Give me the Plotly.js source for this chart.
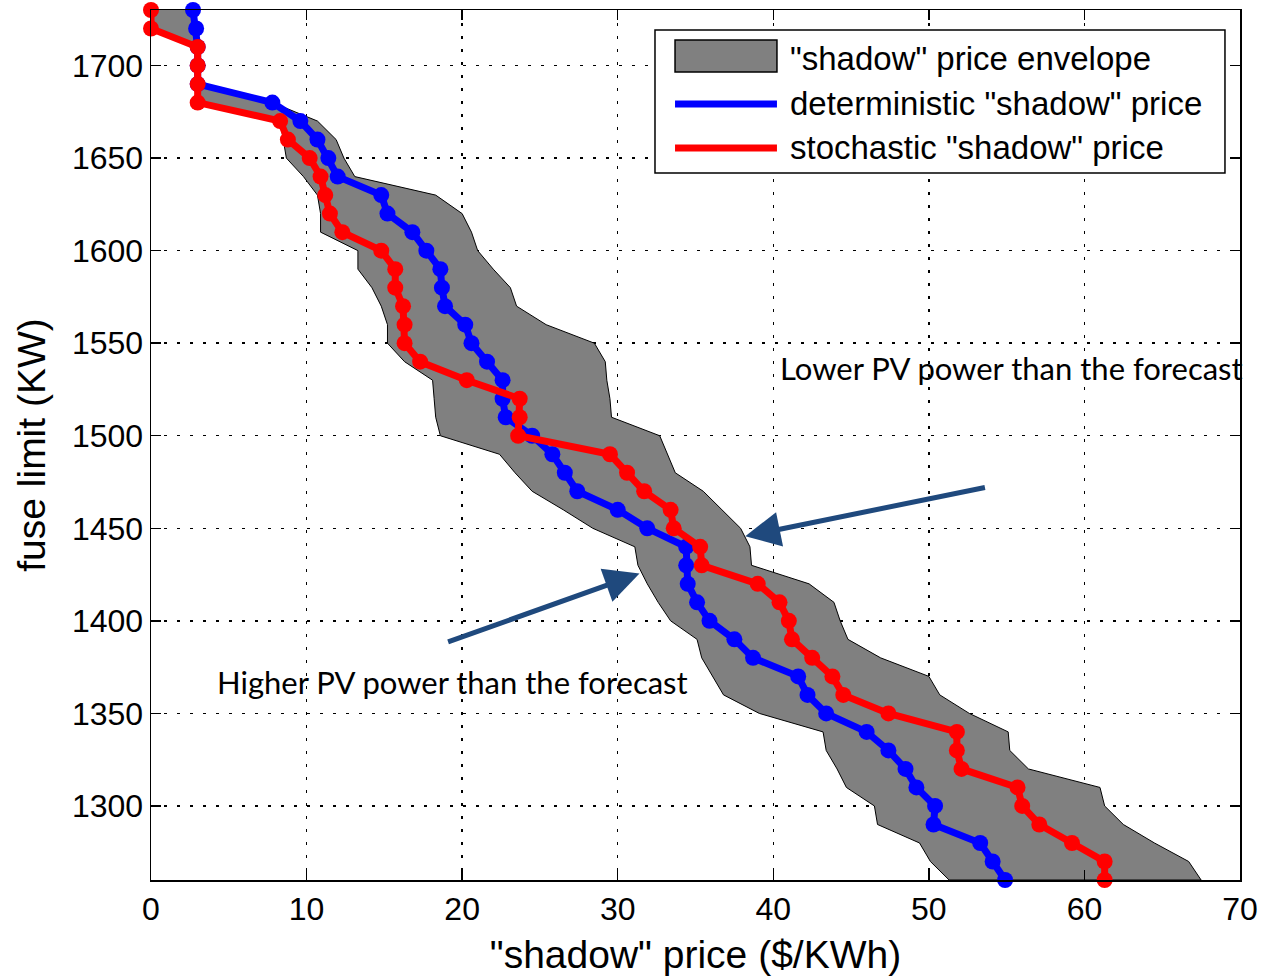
<!DOCTYPE html>
<html>
<head>
<meta charset="utf-8">
<script src="https://cdn.plot.ly/plotly-3.0.1.min.js"></script>
<style>html,body{margin:0;padding:0;background:#fff;}#chart{width:1267px;height:976px;}</style>
</head>
<body>
<div id="chart"></div>
<script>
// fuse limit levels (KW)
const fuseLimit = [1730,1720,1710,1700,1690,1680,1670,1660,1650,1640,
                   1630,1620,1610,1600,1590,1580,1570,1560,1550,1540,
                   1530,1520,1510,1500,1490,1480,1470,1460,1450,1440,
                   1430,1420,1410,1400,1390,1380,1370,1360,1350,1340,
                   1330,1320,1310,1300,1290,1280,1270,1260];
// stochastic "shadow" price ($/KWh)
const stochastic = [0,0,3.0,3.0,3.0,3.0,8.3,8.8,10.2,10.9,
                    11.2,11.5,12.3,14.8,15.7,15.7,16.2,16.3,16.3,17.3,
                    20.3,23.7,23.7,23.6,29.5,30.6,31.7,33.4,33.6,35.3,
                    35.4,39.0,40.4,41.0,41.2,42.5,43.8,44.5,47.4,51.8,
                    51.8,52.1,55.7,56.0,57.1,59.2,61.3,61.3];
// deterministic "shadow" price ($/KWh)
const deterministic = [2.7,2.9,3.0,3.0,3.0,7.8,9.6,10.7,11.4,12.0,
                       14.8,15.2,16.8,17.7,18.6,18.7,18.9,20.2,20.6,21.6,
                       22.6,22.6,22.8,24.5,25.8,26.6,27.4,30.0,31.9,34.4,
                       34.4,34.5,35.1,35.9,37.5,38.7,41.6,42.2,43.4,46.0,
                       47.4,48.5,49.2,50.4,50.3,53.3,54.1,54.9];
// envelope lower / upper bounds ($/KWh)
const envelopeMin = [0,0,3.0,3.0,3.0,3.0,8.3,8.5,8.7,9.8,
                     10.7,10.9,10.9,13.3,13.3,14.2,14.8,15.2,15.2,16.3,
                     18.1,18.2,18.3,18.6,22.4,23.4,24.5,26.5,28.4,31.1,
                     31.3,31.9,32.6,33.4,35.1,35.4,36.1,36.8,39.1,43.2,
                     43.4,44.1,44.7,46.5,46.7,49.4,50.1,51.3];
const envelopeMax = [2.7,2.9,3.0,3.0,3.0,7.8,10.7,11.9,12.4,13.1,
                     18.3,20.0,20.6,21.0,22.0,23.1,23.5,25.4,28.5,29.2,
                     29.3,29.5,29.6,32.7,33.2,33.7,35.5,36.7,37.9,38.5,
                     38.6,42.3,43.9,44.3,44.8,46.9,50.0,50.7,52.6,55.1,
                     55.2,56.4,61.0,61.3,62.5,64.5,66.7,67.5];
const xTicks = [0,10,20,30,40,50,60,70];
const yTicks = [1300,1350,1400,1450,1500,1550,1600,1650,1700];
const legendLabels = ['"shadow" price envelope','deterministic "shadow" price','stochastic "shadow" price'];
const noteLower = 'Lower PV power than the forecast';
const noteHigher = 'Higher PV power than the forecast';

const polyX = envelopeMin.concat(envelopeMax.slice().reverse());
const polyY = fuseLimit.concat(fuseLimit.slice().reverse());

const traces = [
  {x: polyX, y: polyY, type: 'scatter', mode: 'lines', fill: 'toself',
   fillcolor: '#808080', line: {color: '#000', width: 1}, name: legendLabels[0],
   showlegend: false, hoverinfo: 'skip'},
  {x: deterministic, y: fuseLimit, type: 'scatter', mode: 'lines+markers',
   line: {color: '#0000FF', width: 7}, marker: {color: '#0000FF', size: 16},
   name: legendLabels[1], showlegend: false, cliponaxis: false},
  {x: stochastic, y: fuseLimit, type: 'scatter', mode: 'lines+markers',
   line: {color: '#FF0000', width: 7}, marker: {color: '#FF0000', size: 16},
   name: legendLabels[2], showlegend: false, cliponaxis: false}
];

const axisFont = {family: 'Liberation Sans, Arial, sans-serif', size: 32, color: '#000'};
const axisCommon = {
  showline: true, linecolor: '#000', linewidth: 1.5, mirror: 'ticks',
  ticks: 'inside', ticklen: 10, tickwidth: 1.5, tickcolor: '#000',
  showgrid: true, gridcolor: '#000', gridwidth: 1.5, griddash: '3px,10px',
  zeroline: false, tickfont: axisFont, fixedrange: true
};

const lx0 = 0.4628, lx1 = 0.9862;
const legendRows = [0.9437, 0.8920, 0.8414];
const shapes = [
  {type: 'rect', xref: 'paper', yref: 'paper', x0: lx0, x1: lx1, y0: 0.8126, y1: 0.977,
   line: {color: '#000', width: 1.5}, fillcolor: '#fff', layer: 'above'},
  {type: 'rect', xref: 'paper', yref: 'paper', x0: 0.4812, x1: 0.5748, y0: 0.9287, y1: 0.9655,
   line: {color: '#000', width: 1.5}, fillcolor: '#808080', layer: 'above'},
  {type: 'line', xref: 'paper', yref: 'paper', x0: 0.4812, x1: 0.5748, y0: legendRows[1], y1: legendRows[1],
   line: {color: '#0000FF', width: 7}, layer: 'above'},
  {type: 'line', xref: 'paper', yref: 'paper', x0: 0.4812, x1: 0.5748, y0: legendRows[2], y1: legendRows[2],
   line: {color: '#FF0000', width: 7}, layer: 'above'}
];
const legendFont = {family: 'Liberation Sans, Arial, sans-serif', size: 33, color: '#000'};
const annotations = legendLabels.map((t, i) => ({
  xref: 'paper', yref: 'paper', x: 0.5848, y: legendRows[i], xanchor: 'left', yanchor: 'middle',
  text: t, showarrow: false, font: legendFont
}));
const noteFont = {family: 'Lato, Open Sans, sans-serif', size: 31, color: '#000'};
annotations.push(
  {x: 55.3, y: 1536.6, xref: 'x', yref: 'y', text: noteLower, showarrow: false, font: noteFont},
  {x: 19.4, y: 1367.2, xref: 'x', yref: 'y', text: noteHigher, showarrow: false, font: noteFont},
  {x: 38.2, y: 1445.7, ax: 53.7, ay: 1472.2, xref: 'x', yref: 'y', axref: 'x', ayref: 'y',
   text: '', showarrow: true, arrowhead: 2, arrowsize: 1.4, arrowwidth: 5, arrowcolor: '#1F497D'},
  {x: 31.4, y: 1425.6, ax: 19.0, ay: 1388.3, xref: 'x', yref: 'y', axref: 'x', ayref: 'y',
   text: '', showarrow: true, arrowhead: 2, arrowsize: 1.4, arrowwidth: 5, arrowcolor: '#1F497D'}
);

const layout = {
  width: 1267, height: 976,
  margin: {l: 151, r: 27, t: 10, b: 96},
  paper_bgcolor: '#fff', plot_bgcolor: '#fff',
  showlegend: false,
  xaxis: Object.assign({}, axisCommon, {
    range: [0, 70], tickvals: xTicks, ticktext: xTicks.map(String),
    title: {text: '"shadow" price ($/KWh)', font: {family: 'Liberation Sans, Arial, sans-serif', size: 39, color: '#000'}, standoff: 15}
  }),
  yaxis: Object.assign({}, axisCommon, {
    range: [1260, 1730], tickvals: yTicks, ticktext: yTicks.map(String),
    title: {text: 'fuse limit (KW)', font: {family: 'Liberation Sans, Arial, sans-serif', size: 39, color: '#000'}, standoff: 14}
  }),
  shapes: shapes,
  annotations: annotations
};

Plotly.newPlot('chart', traces, layout, {staticPlot: true, displayModeBar: false});
</script>
</body>
</html>
